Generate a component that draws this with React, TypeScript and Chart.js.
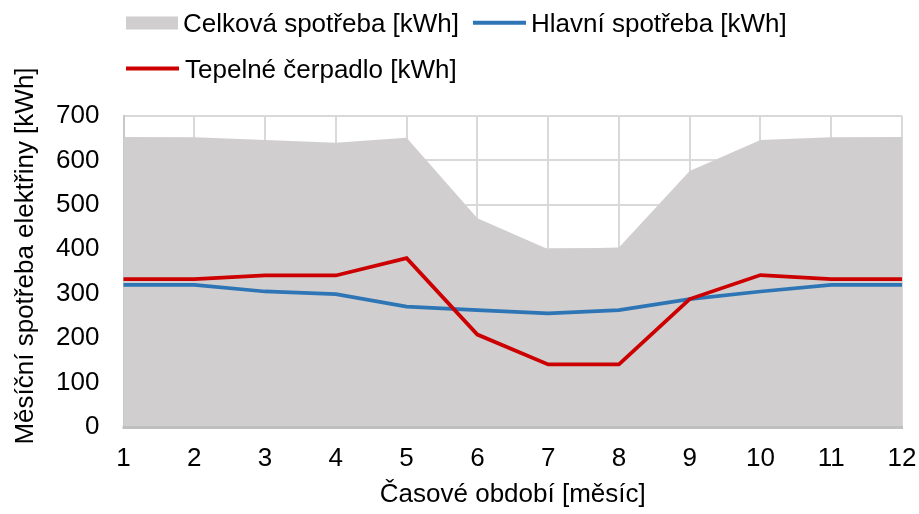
import React, { useEffect, useRef } from "react";
import { Chart, registerables } from "chart.js";

Chart.register(...registerables);

const months = ["1", "2", "3", "4", "5", "6", "7", "8", "9", "10", "11", "12"];
const totalUse = [653, 652, 646, 640, 651, 470, 400, 404, 576, 646, 652, 653];
const mainUse = [320, 320, 305, 299, 271, 263, 256, 263, 288, 305, 320, 320];
const heatPump = [333, 333, 341, 341, 380, 208, 141, 141, 288, 342, 333, 333];
const yTicks = [0, 100, 200, 300, 400, 500, 600, 700];

const seriesNames = ["Celková spotřeba [kWh]", "Hlavní spotřeba [kWh]", "Tepelné čerpadlo [kWh]"];
const yTitle = "Měsíční spotřeba elektřiny [kWh]";
const xTitle = "Časové období [měsíc]";

const FONT = '"Liberation Sans", Arial, sans-serif';
const GRAY = "#d0cece";
const BLUE = "#2e75b6";
const RED = "#cc0000";

const overlayPlugin = {
  id: "overlay",
  afterDatasetsDraw(chart: any) {
    const { ctx, chartArea } = chart;
    ctx.save();
    ctx.strokeStyle = "#bfbfbf";
    ctx.lineWidth = 3;
    ctx.beginPath();
    ctx.moveTo(chartArea.left - 1, chartArea.bottom + 0.5);
    ctx.lineTo(chartArea.right + 1, chartArea.bottom + 0.5);
    ctx.stroke();
    ctx.restore();
  },
  afterDraw(chart: any) {
    const { ctx } = chart;
    const ds = chart.data.datasets;
    ctx.save();
    ctx.font = `26px ${FONT}`;
    ctx.fillStyle = "#000";
    ctx.textBaseline = "alphabetic";
    ctx.textAlign = "left";
    ctx.fillStyle = ds[0].backgroundColor;
    ctx.fillRect(126, 16.5, 52, 13);
    ctx.fillStyle = "#000";
    ctx.fillText(ds[0].label, 183, 31.7);
    ctx.strokeStyle = ds[1].borderColor;
    ctx.lineWidth = 4;
    ctx.beginPath();
    ctx.moveTo(473, 22.7);
    ctx.lineTo(526, 22.7);
    ctx.stroke();
    ctx.fillText(ds[1].label, 531, 31.7);
    ctx.strokeStyle = ds[2].borderColor;
    ctx.beginPath();
    ctx.moveTo(126, 68.5);
    ctx.lineTo(179, 68.5);
    ctx.stroke();
    ctx.fillText(ds[2].label, 185, 78.3);
    ctx.translate(33.3, 256);
    ctx.rotate(-Math.PI / 2);
    ctx.textAlign = "center";
    ctx.fillText(yTitle, 0, 0);
    ctx.restore();
  },
};

export default function App() {
  const ref = useRef<HTMLCanvasElement | null>(null);
  useEffect(() => {
    if (!ref.current) return;
    const chart = new Chart(ref.current, {
      type: "line",
      data: {
        labels: months,
        datasets: [
          {
            label: seriesNames[0],
            data: totalUse,
            fill: "origin",
            backgroundColor: GRAY,
            borderColor: GRAY,
            borderWidth: 0,
            pointRadius: 0,
            tension: 0,
            order: 3,
          },
          {
            label: seriesNames[1],
            data: mainUse,
            fill: false,
            borderColor: BLUE,
            backgroundColor: BLUE,
            borderWidth: 3.75,
            pointRadius: 0,
            tension: 0,
            order: 2,
          },
          {
            label: seriesNames[2],
            data: heatPump,
            fill: false,
            borderColor: RED,
            backgroundColor: RED,
            borderWidth: 3.75,
            pointRadius: 0,
            tension: 0,
            order: 1,
          },
        ],
      },
      options: {
        responsive: false,
        animation: false,
        devicePixelRatio: 1,
        layout: { padding: { top: 116, right: 17, bottom: 0, left: 0 } },
        plugins: {
          legend: { display: false },
          tooltip: { enabled: false },
        },
        scales: {
          x: {
            type: "category",
            offset: false,
            grid: {
              color: "#d9d9d9",
              lineWidth: 2,
              drawTicks: true,
              tickLength: 16,
              tickColor: "rgba(0,0,0,0)",
            },
            border: { display: false },
            ticks: {
              color: "#000",
              font: { family: FONT, size: 26 },
              padding: 0,
              maxRotation: 0,
              autoSkip: false,
            },
            title: {
              display: true,
              text: xTitle,
              color: "#000",
              font: { family: FONT, size: 26 },
              padding: { top: 0, bottom: 4 },
            },
            afterFit(scale: any) {
              scale.height = 87;
            },
          },
          y: {
            min: 0,
            max: 700,
            afterBuildTicks(scale: any) {
              scale.ticks = yTicks.map((v) => ({ value: v }));
            },
            grid: { color: "#d9d9d9", lineWidth: 2, drawTicks: false },
            border: { display: true, color: "#c8c8c8", width: 2 },
            ticks: {
              color: "#000",
              font: { family: FONT, size: 26 },
              padding: 24,
            },
            afterFit(scale: any) {
              scale.width = 123.5;
            },
          },
        },
      },
      plugins: [overlayPlugin],
    });
    return () => chart.destroy();
  }, []);
  return (
    <div style={{ position: "absolute", left: 0, top: 0, width: 919, height: 514, background: "#fff" }}>
      <canvas ref={ref} width={919} height={514} style={{ display: "block" }} />
    </div>
  );
}
